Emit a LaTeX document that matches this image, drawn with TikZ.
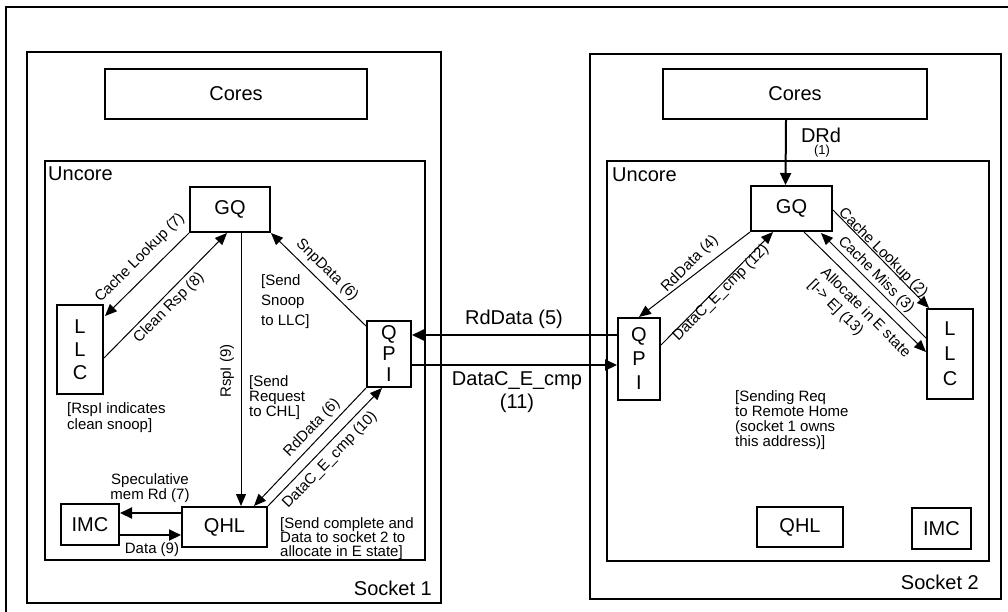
\documentclass[tikz,border=0pt]{standalone}
\usepackage{fontspec}
\setmainfont{Liberation Sans}
\usetikzlibrary{arrows.meta,calc}
\begin{document}
\begin{tikzpicture}[x=1pt,y=-1pt,
  box/.style={draw, line width=2pt, inner sep=0pt},
  big/.style={font=\fontsize{20}{23}\selectfont},
  sm/.style={font=\fontsize{15}{17}\selectfont, inner sep=0pt},
  note/.style={font=\fontsize{15}{15}\selectfont, inner sep=0pt, align=left, anchor=north west},
  tarrow/.style={line width=1pt, -{Triangle[length=12pt,width=10pt]}},
  barrow/.style={line width=2pt, -{Triangle[length=12pt,width=11pt]}},
]
\useasboundingbox (0,0) rectangle (1008,611);
\coordinate (oa) at (6,640);
\coordinate (ob) at (6,7);
\coordinate (oc) at (1030,7);
\draw[line width=2pt] (oa) -- (ob) -- (oc);

% sockets
\node[box, minimum width=414pt, minimum height=551pt] (socket1) at (234,327.5) {};
\node[box, minimum width=411pt, minimum height=545pt] (socket2) at (795.5,326.5) {};
\node[box, minimum width=380pt, minimum height=399pt] (uncore1) at (235,360.5) {};
\node[box, minimum width=382pt, minimum height=400pt] (uncore2) at (798,361) {};
\node[big, anchor=west, inner sep=0pt] (un1) at (48,174) {Uncore};
\node[big, anchor=west, inner sep=0pt] (un2) at (612,175) {Uncore};
\node[big, anchor=east, inner sep=0pt] (s1) at (432,588) {Socket 1};
\node[big, anchor=east, inner sep=0pt] (s2) at (979,582) {Socket 2};

% boxes
\node[box, big, minimum width=262pt, minimum height=50pt] (cores1) at (236,94) {Cores};
\node[box, big, minimum width=264pt, minimum height=50pt] (cores2) at (795,94) {Cores};
\node[box, big, minimum width=80pt, minimum height=45pt] (gq1) at (230,209.5) {GQ};
\node[box, big, minimum width=81pt, minimum height=45pt] (gq2) at (791.5,208.5) {GQ};
\node[box, font=\fontsize{20}{23}\selectfont, align=center, minimum width=46pt, minimum height=89pt] (llc1) at (80,349.5) {L\\L\\C};
\node[box, font=\fontsize{20}{25}\selectfont, align=center, minimum width=46pt, minimum height=90pt] (llc2) at (950,354) {L\\L\\C};
\node[box, font=\fontsize{20}{21}\selectfont, align=center, minimum width=44pt, minimum height=66pt] (qpi1) at (389,354) {Q\\P\\I};
\node[box, font=\fontsize{20}{24}\selectfont, align=center, minimum width=42pt, minimum height=82pt] (qpi2) at (639,359) {Q\\P\\I};
\node[box, big, minimum width=85pt, minimum height=40pt] (qhl1) at (224.5,527) {QHL};
\node[box, big, minimum width=58pt, minimum height=41pt] (imc1) at (90,524.5) {IMC};
\node[box, big, minimum width=86pt, minimum height=40pt] (qhl2) at (800,527) {QHL};
\node[box, big, minimum width=59pt, minimum height=41pt] (imc2) at (941.5,528.5) {IMC};

% socket 1 connectors
\draw[tarrow] (gq1.south west) -- ($(llc1.north east)+(1,12)$);
\draw[tarrow] ($(llc1.east)+(0,8.5)$) -- ($(gq1.south west)+(38,0)$);
\draw[tarrow] ($(gq1.south west)+(52,0)$) -- ($(qhl1.north west)+(60,0)$);
\draw[tarrow] ($(qpi1.north west)+(0,6)$) -- (gq1.south east);
\draw[tarrow] (qpi1.south west) -- ($(qhl1.north west)+(73,0)$);
\draw[tarrow] (qhl1.north east) -- ($(qpi1.south west)+(16,0)$);
\draw[barrow] ($(qhl1.west)+(0,-14)$) -- ($(imc1.east)+(0,-11.5)$);
\draw[barrow] ($(imc1.east)+(0,10.5)$) -- ($(qhl1.west)+(0,8)$);

% between sockets
\draw[barrow] ($(qpi2.west)+(0,-24)$) -- ($(qpi1.east)+(0,-19)$);
\draw[barrow] ($(qpi1.east)+(0,11)$) -- ($(qpi2.west)+(0,6)$);

% socket 2 connectors
\draw[barrow] ($(cores2.south west)+(124,0)$) -- ($(gq2.north west)+(35.5,0)$);
\draw[tarrow] (gq2.south west) -- ($(qpi2.north west)+(22,0)$);
\draw[tarrow] ($(qpi2.east)+(0,-14)$) -- ($(gq2.south west)+(23,0)$);
\draw[tarrow] ($(gq2.east)+(0,1.5)$) -- ($(llc2.north west)+(3,0)$);
\draw[tarrow] ($(llc2.west)+(0,-16)$) -- ($(gq2.south west)+(71,1)$);
\draw[tarrow] ($(gq2.south west)+(54,0)$) -- ($(llc2.west)+(0,-2)$);

% labels socket 1
\node[sm, rotate=45] (l7) at (140,258) {Cache Lookup (7)};
\node[sm, rotate=45] (l8) at (169,308) {Clean Rsp (8)};
\node[sm, rotate=90] (l9) at (227,371) {RspI (9)};
\node[sm, rotate=-45] (l6a) at (327,270) {SnpData (6)};
\node[sm, rotate=46] (l6b) at (312,428) {RdData (6)};
\node[sm, rotate=46] (l10) at (330,460) {DataC\_E\_cmp (10)};
\node[note, font=\fontsize{15}{20}\selectfont] (n1) at (261,274.5) {[Send\\Snoop\\to LLC]};
\node[note] (n2) at (249,375.5) {[Send\\Request\\to CHL]};
\node[note, font=\fontsize{15}{16}\selectfont] (n3) at (67,402) {[RspI indicates\\clean snoop]};
\node[note, font=\fontsize{15}{14}\selectfont] (n4) at (280,517) {[Send complete and\\Data to socket 2 to\\allocate in E state]};
\node[sm, align=center, font=\fontsize{15}{13}\selectfont] (spec) at (150,488.5) {Speculative\\mem Rd (7)};
\node[sm] (d9) at (152,550) {Data (9)};

% labels middle
\node[big, inner sep=0pt] (l5) at (514,319) {RdData (5)};
\node[big, inner sep=0pt, align=center, font=\fontsize{20}{23}\selectfont] (l11) at (517,392.5) {DataC\_E\_cmp\\(11)};

% labels socket 2
\node[big, inner sep=0pt] (drd) at (821,135) {DRd};
\node[font=\fontsize{13}{15}\selectfont, inner sep=0pt] (one) at (822,151) {(1)};
\node[sm, rotate=45] (l4) at (690,264) {RdData (4)};
\node[sm, rotate=45] (l12) at (721,293) {DataC\_E\_cmp (12)};
\node[sm, rotate=-45] (l2) at (883,253) {Cache Lookup (2)};
\node[sm, rotate=-45] (l3) at (876,275) {Cache Miss (3)};
\node[sm, rotate=-45, align=left, font=\fontsize{15}{17.7}\selectfont] (l13) at (859,319) {Allocate in E state\\{[I-> E]} (13)};
\node[note] (n5) at (735,390.5) {[Sending Req\\to Remote Home\\(socket 1 owns\\this address)]};
\end{tikzpicture}
\end{document}
